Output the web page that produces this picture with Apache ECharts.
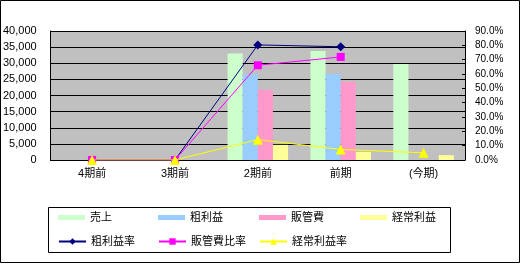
<!DOCTYPE html>
<html><head><meta charset="utf-8">
<script src="https://cdn.jsdelivr.net/npm/echarts@6/dist/echarts.min.js"></script>
<style>html,body{margin:0;padding:0;background:#fff}#c{width:522px;height:266px}</style>
</head><body><div id="c"></div>
<script>
const categories = ['4期前', '3期前', '2期前', '前期', '(今期)'];
const sales = [0, 0, 33000, 33800, 29800];
const grossProfit = [0, 0, 26500, 26700, 0];
const sga = [0, 0, 21800, 24300, 0];
const ordinaryProfit = [0, 0, 4700, 2500, 1500];
const grossMargin = [0, 0, 80.3, 79.0, null];
const sgaRatio = [0, 0, 66.1, 71.9, null];
const ordinaryMargin = [0, 0, 14.2, 7.4, 5.0];
const leftTicks = { min: 0, max: 40000, interval: 5000 };
const rightTicks = { min: 0, max: 90, interval: 10 };

const FONT = '"Liberation Sans", "Noto Sans CJK JP", sans-serif';
const chart = echarts.init(document.getElementById('c'), null, { renderer: 'canvas' });

const barNames = ['売上', '粗利益', '販管費', '経常利益'];
const barColors = ['#CCFFCC', '#99CCFF', '#FF99CC', '#FFFF99'];
const barData = [sales, grossProfit, sga, ordinaryProfit];
const lineNames = ['粗利益率', '販管費比率', '経常利益率'];
const lineColors = ['#000080', '#FF00FF', '#FFFF00'];
const lineSymbols = ['diamond', 'rect', 'triangle'];
const lineSizes = [9, 8, 10];
const lineData = [grossMargin, sgaRatio, ordinaryMargin];

const series = [];
barNames.forEach((n, i) => series.push({
  name: n, type: 'bar', yAxisIndex: 0, data: barData[i],
  itemStyle: { color: barColors[i] }, barGap: '0%', barCategoryGap: '27%',
  emphasis: { disabled: true }
}));
lineNames.forEach((n, i) => series.push({
  name: n, type: 'line', yAxisIndex: 1, data: lineData[i],
  symbol: lineSymbols[i], symbolSize: lineSizes[i],
  lineStyle: { color: lineColors[i], width: 1 },
  itemStyle: { color: lineColors[i] }, z: 10 + i,
  emphasis: { disabled: true }
}));

const legendX = [58, 158, 259, 360];
const legends = [];
barNames.forEach((n, i) => legends.push({
  data: [n], left: legendX[i], top: 212, icon: 'rect', itemWidth: 27, itemHeight: 5, itemGap: 0,
  textStyle: { fontFamily: FONT, fontSize: 11, color: '#000' }, padding: 0, selectedMode: false
}));
lineNames.forEach((n, i) => legends.push({
  data: [n], left: legendX[i], top: 236, itemWidth: 27, itemHeight: 8, itemGap: 0,
  textStyle: { fontFamily: FONT, fontSize: 11, color: '#000' }, padding: 0, selectedMode: false
}));

chart.setOption({
  animation: false,
  backgroundColor: '#fff',
  grid: { left: 48, top: 31, width: 417, height: 129, show: true, backgroundColor: '#C0C0C0', borderWidth: 0 },
  legend: legends,
  xAxis: {
    type: 'category', data: categories,
    axisLine: { lineStyle: { color: '#000', width: 1 } },
    axisTick: { inside: true, length: 4, lineStyle: { color: '#000' } },
    axisLabel: { fontFamily: FONT, fontSize: 11, color: '#000', margin: 8 }
  },
  yAxis: [{
    type: 'value', min: leftTicks.min, max: leftTicks.max, interval: leftTicks.interval,
    axisLine: { show: true, lineStyle: { color: '#000' } },
    axisTick: { show: true, inside: true, length: 3, lineStyle: { color: '#000' } },
    splitLine: { show: true, lineStyle: { color: '#000', width: 1 } },
    axisLabel: { fontFamily: FONT, fontSize: 11, color: '#000', margin: 14,
      formatter: v => v.toLocaleString('en-US') }
  }, {
    type: 'value', position: 'right', min: rightTicks.min, max: rightTicks.max, interval: rightTicks.interval,
    axisLine: { show: true, lineStyle: { color: '#000' } },
    axisTick: { show: true, inside: true, length: 3, lineStyle: { color: '#000' } },
    splitLine: { show: false },
    axisLabel: { fontFamily: FONT, fontSize: 10, color: '#000', margin: 10,
      formatter: v => v.toFixed(1) + '%' }
  }],
  series: series,
  graphic: [
    { type: 'rect', shape: { x: 0.5, y: 0.5, width: 519, height: 262 }, style: { fill: null, stroke: '#000', lineWidth: 1 }, z: -1, silent: true },
    { type: 'rect', shape: { x: 48.5, y: 207.5, width: 402, height: 45 }, style: { fill: null, stroke: '#000', lineWidth: 1 }, z: -1, silent: true }
  ]
});
</script></body></html>
